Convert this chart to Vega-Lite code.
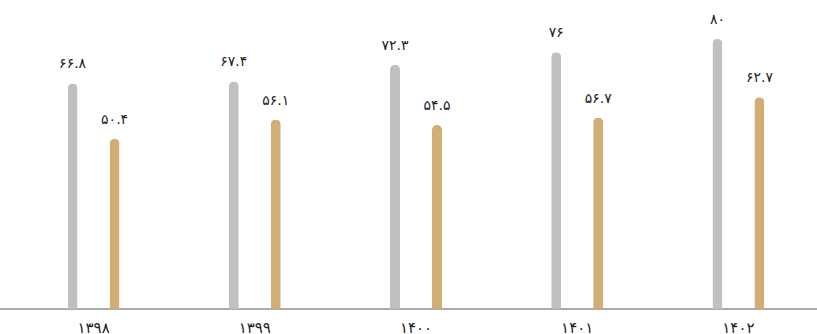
{
  "$schema": "https://vega.github.io/schema/vega-lite/v6.json",
  "width": 817,
  "height": 309,
  "autosize": {"type": "none"},
  "padding": {"left": 0, "top": 0, "right": 0, "bottom": 25},
  "config": {
    "view": {"stroke": null},
    "font": "DejaVu Sans",
    "locale": {
      "number": {
        "decimal": ".",
        "thousands": ",",
        "grouping": [3],
        "currency": ["", ""],
        "numerals": ["۰", "۱", "۲", "۳", "۴", "۵", "۶", "۷", "۸", "۹"]
      }
    }
  },
  "data": {
    "values": [
      {"year": "۱۳۹۸", "series": "A", "value": 66.8},
      {"year": "۱۳۹۸", "series": "B", "value": 50.4},
      {"year": "۱۳۹۹", "series": "A", "value": 67.4},
      {"year": "۱۳۹۹", "series": "B", "value": 56.1},
      {"year": "۱۴۰۰", "series": "A", "value": 72.3},
      {"year": "۱۴۰۰", "series": "B", "value": 54.5},
      {"year": "۱۴۰۱", "series": "A", "value": 76},
      {"year": "۱۴۰۱", "series": "B", "value": 56.7},
      {"year": "۱۴۰۲", "series": "A", "value": 80},
      {"year": "۱۴۰۲", "series": "B", "value": 62.7}
    ]
  },
  "layer": [
    {
      "mark": {"type": "rule", "color": "#aaaaaa", "strokeWidth": 1.2},
      "encoding": {
        "y": {"datum": 0, "type": "quantitative", "scale": {"domain": [0, 91.5], "nice": false, "zero": true}, "axis": null}
      }
    },
    {
      "mark": {"type": "bar", "width": 10, "cornerRadiusTopLeft": 5, "cornerRadiusTopRight": 5},
      "encoding": {
        "x": {"field": "year", "type": "nominal", "sort": null, "scale": {"range": [13, 819], "paddingInner": 0, "paddingOuter": 0},
          "axis": {"title": null, "labelAngle": 0, "ticks": false, "domain": false, "labelFontSize": 15, "labelPadding": 11, "labelColor": "#222222", "labelBaseline": "top"}},
        "xOffset": {"field": "series", "type": "nominal", "sort": null, "scale": {"paddingInner": 0, "paddingOuter": 0.92}},
        "y": {"field": "value", "type": "quantitative", "scale": {"domain": [0, 91.5], "nice": false}, "axis": null},
        "color": {"field": "series", "type": "nominal", "scale": {"range": ["#bfc0c2", "#d3ae74"]}, "legend": null}
      }
    },
    {
      "mark": {"type": "text", "baseline": "bottom", "dy": -12, "fontSize": 14, "color": "#222222"},
      "encoding": {
        "x": {"field": "year", "type": "nominal", "sort": null},
        "xOffset": {"field": "series", "type": "nominal", "sort": null},
        "y": {"field": "value", "type": "quantitative", "scale": {"domain": [0, 91.5], "nice": false}},
        "text": {"field": "value", "type": "quantitative"}
      }
    }
  ]
}
